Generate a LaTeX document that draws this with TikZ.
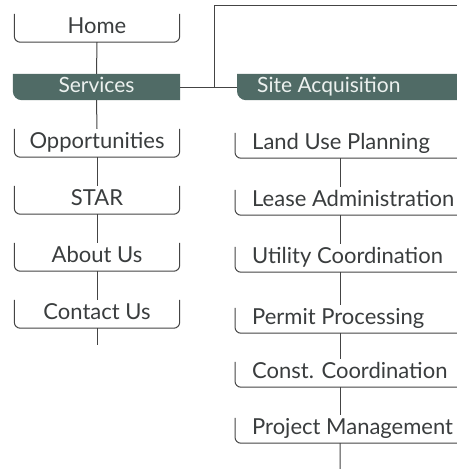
\documentclass[tikz,border=0pt]{standalone}
\usepackage{fontspec}
\setmainfont{Lato}
\usetikzlibrary{backgrounds}
\definecolor{ink}{HTML}{3A3D3E}
\definecolor{rulecol}{HTML}{444444}
\definecolor{boxfill}{HTML}{506B66}
\definecolor{boxtext}{HTML}{ECF1EF}
\newcommand\rowtext[1]{\makebox[176pt][l]{#1}}
\newcommand\headtext[1]{\makebox[200pt][l]{#1}}
\tikzset{
  rule/.style={draw=rulecol, line width=1pt},
  item/.style={font=\fontsize{22}{26}\selectfont, text=ink, inner sep=0pt,
               text height=16pt, text depth=5pt, minimum height=28pt},
  leftitem/.style={item, minimum width=165pt},
  rightitem/.style={item, minimum width=210pt, inner xsep=17pt},
  headbox/.style={font=\fontsize{21}{24}\selectfont, text=boxtext, inner sep=0pt,
               text height=15pt, text depth=5pt, minimum height=26pt},
}
\begin{document}
\begin{tikzpicture}[x=1pt, y=-1pt]
  \useasboundingbox (0,0) rectangle (457,469);
  \clip (0,0) rectangle (457,469);

  % left column
  \node[leftitem] (home) at (97,28) {Home};
  \node[headbox, minimum width=167pt] (services) at (96.5,87) {Services};
  \node[leftitem] (opp) at (97,143) {Opportunities};
  \node[leftitem] (star) at (97,200) {STAR};
  \node[leftitem] (about) at (97,257) {About Us};
  \node[leftitem] (contact) at (97,314) {Contact Us};

  % right column
  \node[headbox, anchor=west, minimum width=240pt, inner xsep=20pt] (site) at (237,87) {\headtext{Site Acquisition}};
  \node[rightitem, anchor=west] (land) at (235,144) {\rowtext{Land Use Planning}};
  \node[rightitem, anchor=west] (lease) at (235,201) {\rowtext{Lease Administration}};
  \node[rightitem, anchor=west] (utility) at (235,258) {\rowtext{Utility Coordination}};
  \node[rightitem, anchor=west] (permit) at (235,319) {\rowtext{Permit Processing}};
  \node[rightitem, anchor=west] (const) at (235,373) {\rowtext{Const. Coordination}};
  \node[rightitem, anchor=west] (project) at (235,429) {\rowtext{Project Management}};

  % white page and the filled header boxes, squared except the lower left corner
  \begin{pgfonlayer}{background}
    \fill[white] (0,0) rectangle (457,469);
    \foreach \b in {services,site}
      \fill[boxfill] (\b.north west) -- ([yshift=9pt]\b.south west)
        arc[start angle=180, end angle=270, radius=9pt] -- (\b.south east)
        -- (\b.north east) -- cycle;
  \end{pgfonlayer}

  % open brackets under the left menu entries
  \foreach \n in {home,opp,star,about,contact}
    \draw[rule] (\n.north west) -- ([yshift=6pt]\n.south west)
      arc[start angle=180, end angle=270, radius=6pt]
      -- ([xshift=-6pt]\n.south east)
      arc[start angle=270, end angle=360, radius=6pt] -- (\n.north east);

  % half brackets under the right entries, running off to the right
  \foreach \n in {land,lease,utility,permit,const,project}
    \draw[rule] ([yshift=-3pt]\n.north west) -- ([yshift=6pt]\n.south west)
      arc[start angle=180, end angle=270, radius=6pt]
      -- ([xshift=30pt]\n.south east);

  % connectors
  \coordinate (j) at (214,87);
  \coordinate (topend) at (470,5);
  \coordinate (leftend) at (97,345);
  \coordinate (rightend) at (340,480);
  \draw[rule] (home.south) -- (services.north);
  \draw[rule] (services.south) -- (opp.north);
  \draw[rule] (opp.south) -- (star.north);
  \draw[rule] (star.south) -- (about.north);
  \draw[rule] (about.south) -- (contact.north);
  \draw[rule] (contact.south) -- (leftend);
  \draw[rule] (services.east) -- (site.west);
  \draw[rule] (j) |- (topend);
  \draw[rule] (land.south) -- (lease.north);
  \draw[rule] (lease.south) -- (utility.north);
  \draw[rule] (utility.south) -- (permit.north);
  \draw[rule] (permit.south) -- (const.north);
  \draw[rule] (const.south) -- (project.north);
  \draw[rule] (project.south) -- (rightend);
\end{tikzpicture}
\end{document}
